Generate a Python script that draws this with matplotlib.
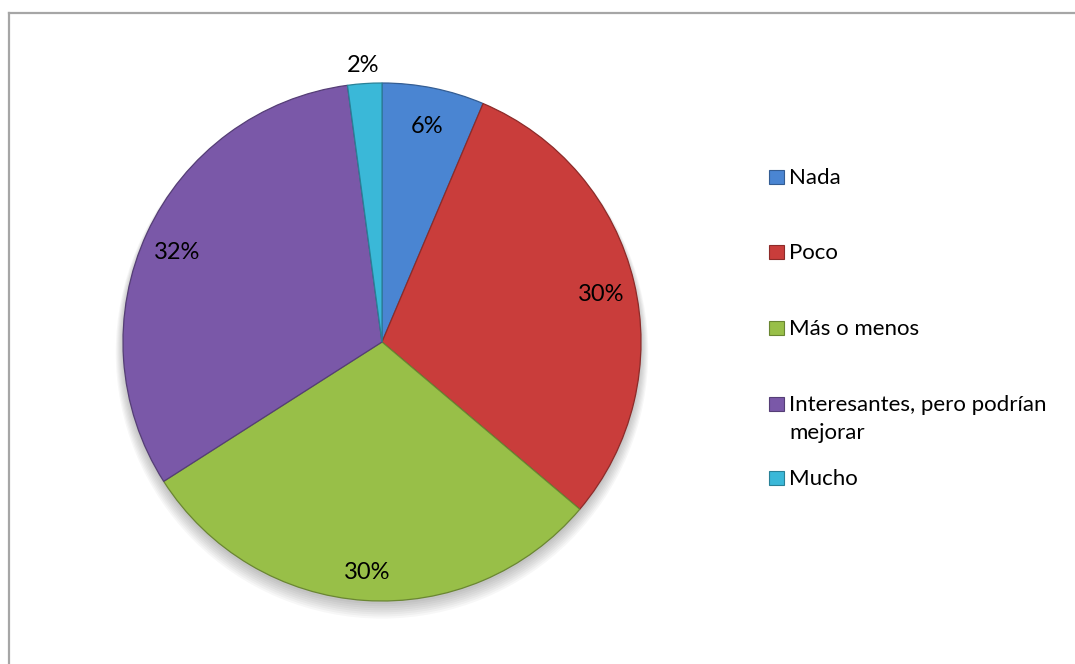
import matplotlib
matplotlib.use("Agg")
import matplotlib.pyplot as plt
import numpy as np
from matplotlib.colors import to_rgb
from matplotlib.lines import Line2D
from matplotlib.patches import Circle, Rectangle

# respuestas por categoría
categories = ["Nada", "Poco", "Más o menos", "Interesantes, pero podrían\nmejorar", "Mucho"]
counts = [3, 14, 14, 15, 1]
colors = ["#4a85d2", "#c93d3b", "#98bf48", "#7a58a8", "#3ab8d8"]

plt.rcParams["font.family"] = ["Lato", "DejaVu Sans"]

W, H = 1075, 664
fig = plt.figure(figsize=(W / 100, H / 100), dpi=100)
fig.patch.set_facecolor("white")

# chart area frame (runs off the right and bottom edge)
frame_kw = dict(color="#a6a6a6", lw=1.6, transform=fig.transFigure)
fig.add_artist(Line2D([8.5 / W, 8.5 / W], [0, 1 - 12.5 / H], **frame_kw))
fig.add_artist(Line2D([8.5 / W, 1.0], [1 - 12.5 / H, 1 - 12.5 / H], **frame_kw))

cx, cy, r = 382, 342, 259
ax = fig.add_axes([(cx - r) / W, 1 - (cy + r) / H, 2 * r / W, 2 * r / H])
ax.set_xlim(-1, 1)
ax.set_ylim(-1, 1)
ax.set_aspect("equal")
ax.axis("off")

# soft drop shadow under the pie
for k in range(8):
    ax.add_patch(Circle((0, -0.012 - 0.004 * k), 1.0 + 0.004 * k,
                        color="black", alpha=0.03, lw=0, zorder=0, clip_on=False))

edge_colors = [tuple(c * 0.7 for c in to_rgb(col)) for col in colors]
wedges, _, autotexts = ax.pie(
    counts,
    colors=colors,
    startangle=90,
    counterclock=False,
    radius=1.0,
    autopct=lambda p: f"{p:.0f}%",
    pctdistance=0.87,
    wedgeprops=dict(linewidth=0.9),
    textprops=dict(fontsize=17, color="black"),
)
for w, ec in zip(wedges, edge_colors):
    w.set_edgecolor(ec)
    w.set_zorder(2)

# the tiny slice gets its label outside the pie
theta = np.deg2rad((wedges[-1].theta1 + wedges[-1].theta2) / 2)
autotexts[-1].set_position((1.08 * np.cos(theta), 1.09 * np.sin(theta)))
for t in autotexts:
    x, y = t.get_position()
    t.set_position((x, y - 0.02))
    t.set_zorder(3)
ax.set_xlim(-1, 1)
ax.set_ylim(-1, 1)

# legend
legend_base = [184, 259, 335, 411, 485]
for label, col, ec, yb in zip(categories, colors, edge_colors, legend_base):
    fig.add_artist(Rectangle((769 / W, 1 - yb / H), 15 / W, 14 / H,
                             facecolor=col, edgecolor=ec, lw=0.8,
                             transform=fig.transFigure))
    lines = label.split("\n")
    for i, line in enumerate(lines):
        fig.text(789 / W, 1 - (yb + 28 * i) / H, line, fontsize=16,
                 va="baseline", ha="left")

fig.savefig("out.png", dpi=100, facecolor="white")
